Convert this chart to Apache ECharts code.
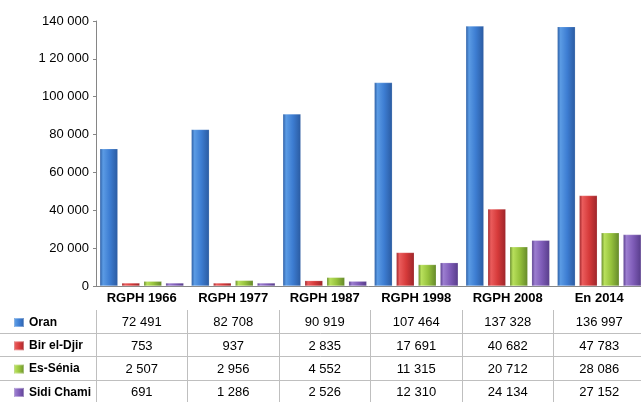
<!DOCTYPE html>
<html lang="fr">
<head>
  <meta charset="UTF-8">
  <title>Population par commune</title>
  <script src="https://cdn.jsdelivr.net/npm/echarts@6.0.0/dist/echarts.min.js"></script>
  <style>
    html, body { margin: 0; padding: 0; background: #fff; }
    #chart { width: 641px; height: 402px; }
  </style>
</head>
<body>
  <div id="chart"></div>
  <script>
    const categories = ['RGPH 1966', 'RGPH 1977', 'RGPH 1987', 'RGPH 1998', 'RGPH 2008', 'En 2014'];
    const oran = [72491, 82708, 90919, 107464, 137328, 136997];
    const birElDjir = [753, 937, 2835, 17691, 40682, 47783];
    const esSenia = [2507, 2956, 4552, 11315, 20712, 28086];
    const sidiChami = [691, 1286, 2526, 12310, 24134, 27152];
    const seriesNames = ['Oran', 'Bir el-Djir', 'Es-Sénia', 'Sidi Chami'];
    // labels as printed on the original (including its "1 20 000")
    const yTickLabels = ['0', '20 000', '40 000', '60 000', '80 000', '100 000', '1 20 000', '140 000'];

    const FONT = "'Liberation Sans', Arial, sans-serif";
    const AXIS = '#868686';
    const GRID_LINE = '#bfbfbf';

    const fmt = n => String(n).replace(/\B(?=(\d{3})+(?!\d))/g, ' ');

    // excel-like bevel: darker sides, lighter middle
    function bevel(light, mid, dark) {
      return new echarts.graphic.LinearGradient(0, 0, 1, 0, [
        { offset: 0, color: dark },
        { offset: 0.18, color: light },
        { offset: 0.55, color: mid },
        { offset: 1, color: dark }
      ]);
    }
    const colors = [
      bevel('#5b9be4', '#3d7dd2', '#2a5aa0'),
      bevel('#ea5c5c', '#d63a3a', '#9c252a'),
      bevel('#b8e05c', '#96c23c', '#64882a'),
      bevel('#9c7ed0', '#7f5cb8', '#573c8a')
    ];
    const values = [oran, birElDjir, esSenia, sidiChami];

    const chart = echarts.init(document.getElementById('chart'));

    // table rows are extra category axes under the plot
    const rowMargins = [12.5, 36, 59, 82.5];
    const rowAxes = values.map((vals, i) => ({
      type: 'category',
      data: vals.map(fmt),
      position: 'bottom',
      offset: 24,
      axisLine: { show: false },
      axisTick: i === 0
        ? { show: true, length: 92, lineStyle: { color: GRID_LINE } }
        : { show: false },
      axisLabel: {
        interval: 0,
        margin: rowMargins[i],
        verticalAlign: 'middle',
        fontFamily: FONT,
        fontSize: 13,
        color: '#000'
      }
    }));

    const option = {
      animation: false,
      color: colors,
      grid: { left: 96, width: 549, top: 21, bottom: 116, outerBoundsMode: 'none' },
      legend: {
        data: seriesNames,
        orient: 'vertical',
        left: 13,
        top: 315.5,
        padding: 0,
        icon: 'rect',
        itemWidth: 10,
        itemHeight: 9,
        itemGap: 9.3,
        textStyle: { fontFamily: FONT, fontSize: 12, fontWeight: 'bold', color: '#000', lineHeight: 14 }
      },
      xAxis: [{
        type: 'category',
        data: categories,
        axisLine: { lineStyle: { color: AXIS } },
        axisTick: { length: 4, lineStyle: { color: AXIS } },
        axisLabel: {
          interval: 0,
          margin: 12,
          verticalAlign: 'middle',
          fontFamily: FONT,
          fontSize: 13,
          fontWeight: 'bold',
          color: '#000'
        }
      }].concat(rowAxes),
      yAxis: {
        type: 'value',
        min: 0,
        max: 140000,
        interval: 20000,
        splitLine: { show: false },
        axisLine: { show: true, lineStyle: { color: AXIS } },
        axisTick: { show: true, length: 3, lineStyle: { color: AXIS } },
        axisLabel: {
          margin: 7,
          fontFamily: FONT,
          fontSize: 13,
          color: '#000',
          formatter: v => yTickLabels[Math.round(v / 20000)]
        }
      },
      series: values.map((vals, i) => ({
        name: seriesNames[i],
        type: 'bar',
        data: vals,
        barWidth: 18,
        barGap: '22%',
        barMinHeight: 3,
        itemStyle: { borderColor: 'rgba(255,255,255,0.35)', borderWidth: 0.5 }
      })),
      graphic: [333.5, 356.5, 380.5].map(y => ({
        type: 'line',
        shape: { x1: 0, y1: y, x2: 641, y2: y },
        style: { stroke: GRID_LINE, lineWidth: 1 },
        silent: true
      }))
    };

    chart.setOption(option);
  </script>
</body>
</html>
